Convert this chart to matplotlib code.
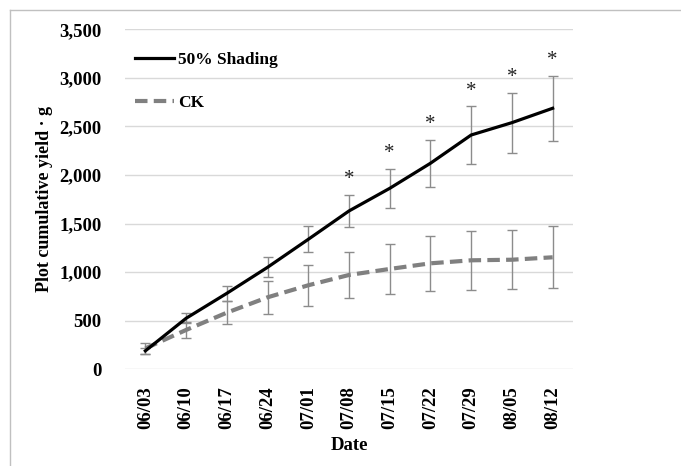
import numpy as np
import matplotlib.pyplot as plt
from matplotlib.lines import Line2D

# --- data ---
dates = ['06/03', '06/10', '06/17', '06/24', '07/01', '07/08',
         '07/15', '07/22', '07/29', '08/05', '08/12']
shading = [190, 525, 782, 1050, 1338, 1630, 1863, 2121, 2412, 2539, 2687]
shading_err = [30, 50, 80, 103, 134, 163, 200, 244, 295, 310, 337]
ck = [215, 405, 583, 741, 865, 971, 1033, 1091, 1122, 1128, 1153]
ck_err = [60, 85, 120, 172, 210, 240, 262, 286, 302, 305, 320]
signif = [False, False, False, False, False, True, True, True, True, True, True]
y_ticks = [0, 500, 1000, 1500, 2000, 2500, 3000, 3500]

plt.rcParams['font.family'] = ['Liberation Serif', 'DejaVu Serif']
plt.rcParams['font.weight'] = 'bold'

fig = plt.figure(figsize=(6.81, 4.66), dpi=100)
ax = fig.add_axes([125 / 681, 1 - 369.3 / 466, 448 / 681, 340 / 466])

x = np.arange(len(dates))
err_col = '#8c8c8c'

ax.errorbar(x, ck, yerr=ck_err, fmt='none', ecolor=err_col, elinewidth=1,
            capsize=3.5, capthick=1, zorder=2)
ax.errorbar(x, shading, yerr=shading_err, fmt='none', ecolor=err_col, elinewidth=1,
            capsize=3.5, capthick=1, zorder=2)
ax.plot(x, ck, color='#808080', lw=3, ls=(0, (3, 1.5)), label='CK', zorder=3)
ax.plot(x, shading, color='black', lw=2.3, label='50% Shading', zorder=4)

# significance stars above the shading error bars
for i in range(len(dates)):
    if signif[i]:
        ax.text(x[i], shading[i] + shading_err[i] + 60, '*', ha='center', va='bottom',
                fontsize=15, fontweight='normal', color='#222222')

ax.set_xlim(-0.5, len(dates) - 0.5)
ax.set_ylim(0, 3500)
ax.set_yticks(y_ticks)
ax.set_yticklabels([f'{v:,}' for v in y_ticks])
ax.set_xticks(x)
ax.set_xticklabels(dates, rotation=90)
ax.tick_params(axis='both', length=0, labelsize=13.5)
ax.tick_params(axis='y', pad=17)
ax.tick_params(axis='x', pad=12)
ax.grid(axis='y', color='#d9d9d9', lw=1)
ax.set_axisbelow(True)
for s in ax.spines.values():
    s.set_visible(False)

ax.set_xlabel('Date', fontsize=13.5, fontweight='bold')
ax.set_ylabel('Plot cumulative yield · g', fontsize=13, fontweight='bold')
ax.xaxis.set_label_coords(0.5, -0.199)
ax.yaxis.set_label_coords(-0.16, 0.5)

handles, labels = ax.get_legend_handles_labels()
ax.legend(handles[::-1], labels[::-1], loc='upper left', frameon=False,
          fontsize=12.5, handlelength=2.2, handletextpad=0.25, labelspacing=1.55,
          bbox_to_anchor=(0.0, 0.965), borderaxespad=0.2)

# light frame around the figure (top and left only visible)
fig.add_artist(Line2D([10 / 681, 1], [1 - 10 / 466, 1 - 10 / 466], color='#c0c0c0', lw=1))
fig.add_artist(Line2D([10 / 681, 10 / 681], [0, 1 - 10 / 466], color='#c0c0c0', lw=1))

fig.savefig('out.png', dpi=100)
